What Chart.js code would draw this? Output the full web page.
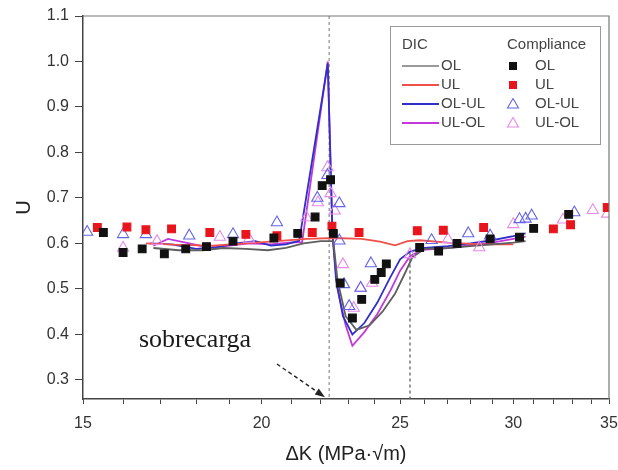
<!DOCTYPE html>
<html><head><meta charset="utf-8">
<script src="https://cdn.jsdelivr.net/npm/chart.js@4.4.0/dist/chart.umd.min.js"></script>
<style>html,body{margin:0;padding:0;background:#fff}#wrap{width:618px;height:470px;position:relative}</style>
</head><body><div id="wrap"><canvas id="c" width="618" height="470"></canvas></div>
<script>
// ---- axis ticks ----
const xTickValues = [15,16,17,18,19,20,21,22,23,24,25,26,27,28,29,30,31,32,33,34,35];
const xLabelValues = [15,20,25,30,35];
const yTickValues = [0.3,0.4,0.5,0.6,0.7,0.8,0.9,1.0,1.1];

// ---- DIC lines ----
const dicOL_x = [16.8,17.5,18.2,18.8,19.5,20.2,20.8,21.4,22.0,22.45,22.6,22.9,23.3,23.8,24.3,24.8,25.2,25.5,26.0,27.0,28.0,29.0,30.0,30.6];
const dicOL_y = [0.59,0.585,0.585,0.59,0.588,0.585,0.59,0.60,0.605,0.605,0.52,0.44,0.41,0.42,0.45,0.49,0.535,0.57,0.588,0.59,0.594,0.598,0.602,0.605];

const dicUL_x = [16.6,17.5,18.5,19.5,20.5,21.5,22.5,23.5,24.2,24.8,25.3,25.8,27.0,28.5,30.0];
const dicUL_y = [0.60,0.597,0.595,0.60,0.605,0.61,0.612,0.61,0.604,0.596,0.605,0.607,0.602,0.598,0.598];

const dicOLUL_x = [16.7,17.3,18.0,18.6,19.2,19.8,20.3,20.8,21.25,22.25,22.42,22.55,22.8,23.15,23.6,24.1,24.6,25.0,25.4,26.0,27.0,28.0,29.0,30.0,30.6];
const dicOLUL_y = [0.60,0.598,0.588,0.592,0.60,0.605,0.595,0.598,0.606,0.996,0.62,0.52,0.44,0.40,0.425,0.47,0.525,0.565,0.582,0.59,0.594,0.60,0.607,0.616,0.622];

const dicULOL_x = [16.8,17.2,17.8,18.4,19.0,19.6,20.3,20.9,21.35,22.25,22.42,22.6,22.9,23.15,23.6,24.1,24.6,25.0,25.4,25.9,27.0,28.0,29.0,30.0,30.6];
const dicULOL_y = [0.595,0.61,0.60,0.59,0.595,0.60,0.598,0.602,0.603,1.0,0.62,0.50,0.42,0.375,0.405,0.445,0.495,0.54,0.572,0.586,0.59,0.596,0.602,0.61,0.615];

// ---- Compliance points ----
const cOL_x = [15.5,16.0,16.5,17.1,17.7,18.3,19.1,20.4,21.2,21.8,22.05,22.35,22.45,22.7,23.15,23.5,24.0,24.25,24.45,25.8,26.6,27.4,28.9,30.3,31.0,32.8];
const cOL_y = [0.624,0.58,0.588,0.577,0.588,0.593,0.605,0.612,0.622,0.658,0.727,0.74,0.622,0.513,0.436,0.477,0.521,0.536,0.555,0.591,0.583,0.60,0.61,0.614,0.633,0.664];

const cUL_x = [15.35,16.1,16.6,17.3,18.4,19.5,20.5,21.7,22.4,23.4,25.7,26.8,28.6,32.0,32.9,34.9];
const cUL_y = [0.635,0.636,0.63,0.632,0.624,0.62,0.617,0.624,0.638,0.624,0.628,0.629,0.635,0.632,0.641,0.679];

const cOLUL_x = [15.1,16.0,16.6,17.8,19.1,20.5,21.88,22.24,22.67,22.67,22.84,23.03,23.46,23.85,26.3,27.9,28.9,30.3,30.6,30.9,33.1];
const cOLUL_y = [0.625,0.62,0.62,0.617,0.62,0.646,0.70,0.75,0.688,0.606,0.51,0.462,0.502,0.556,0.607,0.622,0.617,0.653,0.654,0.661,0.668];

const cULOL_x = [16.0,16.9,18.7,19.6,21.5,21.9,22.24,22.35,22.5,22.8,23.2,23.46,23.9,25.4,27.0,28.4,30.0,32.5,34.1,34.9];
const cULOL_y = [0.59,0.605,0.614,0.61,0.657,0.69,0.767,0.71,0.672,0.554,0.458,0.502,0.513,0.576,0.609,0.591,0.642,0.652,0.673,0.665];

// ---- markers on plot ----
const overloadX = [22.3, 25.4];
const overloadYTop = [1.1, 0.58];
const arrowFrom = [20.5, 0.335];
const arrowTo = [22.15, 0.262];

const pts = (xs, ys) => xs.map((x, i) => ({x, y: ys[i]}));

const colOL = '#5f5f5f', colUL = '#f0504a', colOLUL = '#3030c8', colULOL = '#c437dc';
const colSqBlack = '#111111', colSqRed = '#e8161c', colTriBlue = '#6464e6', colTriPink = '#e58ae6';

function lineDs(label, xs, ys, color) {
  return {label, data: pts(xs, ys), showLine: true, borderColor: color, backgroundColor: color,
    borderWidth: 1.8, pointRadius: 0, tension: 0, order: 2};
}
function ptDs(label, xs, ys, style, color, filled, r) {
  return {label, data: pts(xs, ys), showLine: false, pointStyle: style, pointRadius: r,
    borderColor: color, backgroundColor: filled ? color : 'rgba(0,0,0,0)', borderWidth: 1.1, order: 1};
}

const overlay = {
  id: 'overlay',
  beforeDatasetsDraw(chart) {
    const {ctx, scales: {x, y}} = chart;
    ctx.save();
    overloadX.forEach((v, i) => {
      const px = x.getPixelForValue(v);
      ctx.beginPath();
      ctx.setLineDash([3, 3]);
      ctx.strokeStyle = i === 0 ? '#8a8a8a' : '#555';
      ctx.lineWidth = 1.2;
      ctx.moveTo(px, y.getPixelForValue(overloadYTop[i]));
      ctx.lineTo(px, y.bottom);
      ctx.stroke();
    });
    ctx.restore();
  },
  afterDraw(chart) {
    const {ctx, chartArea: a, scales: {x, y}} = chart;
    ctx.save();
    // frame top & right
    ctx.strokeStyle = '#777'; ctx.lineWidth = 1.2; ctx.setLineDash([]);
    ctx.beginPath(); ctx.moveTo(a.left, a.top); ctx.lineTo(a.right, a.top); ctx.lineTo(a.right, a.bottom); ctx.stroke();

    // arrow
    const x0 = x.getPixelForValue(arrowFrom[0]), y0 = y.getPixelForValue(arrowFrom[1]);
    const x1 = x.getPixelForValue(arrowTo[0]), y1 = y.getPixelForValue(arrowTo[1]);
    const ang = Math.atan2(y1 - y0, x1 - x0);
    ctx.strokeStyle = '#222'; ctx.fillStyle = '#222'; ctx.lineWidth = 1.4;
    ctx.setLineDash([4, 3]);
    ctx.beginPath(); ctx.moveTo(x0, y0); ctx.lineTo(x1 - 8 * Math.cos(ang), y1 - 8 * Math.sin(ang)); ctx.stroke();
    ctx.setLineDash([]);
    ctx.beginPath();
    ctx.moveTo(x1, y1);
    ctx.lineTo(x1 - 10 * Math.cos(ang) + 3.5 * Math.sin(ang), y1 - 10 * Math.sin(ang) - 3.5 * Math.cos(ang));
    ctx.lineTo(x1 - 10 * Math.cos(ang) - 3.5 * Math.sin(ang), y1 - 10 * Math.sin(ang) + 3.5 * Math.cos(ang));
    ctx.closePath(); ctx.fill();

    // annotation text
    ctx.fillStyle = '#1a1a1a';
    ctx.font = '26px "Liberation Serif", "DejaVu Serif", serif';
    ctx.textBaseline = 'alphabetic'; ctx.textAlign = 'left';
    ctx.fillText('sobrecarga', 139, 347);

    // legend
    const L = 390, T = 26, R = 600, B = 144;
    ctx.fillStyle = '#fff'; ctx.fillRect(L, T, R - L, B - T);
    ctx.strokeStyle = '#9a9a9a'; ctx.lineWidth = 1; ctx.strokeRect(L + 0.5, T + 0.5, R - L, B - T);
    ctx.font = '15px "Liberation Sans", Arial, sans-serif';
    ctx.textBaseline = 'middle';
    ctx.fillStyle = '#444';
    ctx.fillText('DIC', 402, 45);
    ctx.fillText('Compliance', 507, 45);
    const rows = [
      ['OL', '#9a9a9a', 'rect', colSqBlack, true],
      ['UL', colUL, 'rect', colSqRed, true],
      ['OL-UL', colOLUL, 'triangle', colTriBlue, false],
      ['UL-OL', colULOL, 'triangle', colTriPink, false]
    ];
    rows.forEach((r, i) => {
      const yy = 66 + i * 19;
      ctx.strokeStyle = r[1]; ctx.lineWidth = 1.8;
      ctx.beginPath(); ctx.moveTo(402, yy); ctx.lineTo(439, yy); ctx.stroke();
      ctx.fillStyle = '#444';
      ctx.fillText(r[0], 441, yy);
      ctx.fillText(r[0], 535, yy);
      if (r[2] === 'rect') {
        ctx.fillStyle = r[3]; ctx.fillRect(509, yy - 4, 8, 8);
      } else {
        ctx.strokeStyle = r[3]; ctx.lineWidth = 1.1;
        ctx.beginPath(); ctx.moveTo(513, yy - 5.5); ctx.lineTo(518.5, yy + 4); ctx.lineTo(507.5, yy + 4); ctx.closePath(); ctx.stroke();
      }
    });
    ctx.restore();
  }
};

Chart.defaults.font.family = '"Liberation Sans", Arial, sans-serif';
Chart.defaults.color = '#333';

new Chart(document.getElementById('c'), {
  type: 'scatter',
  data: {
    datasets: [
      ptDs('Compliance OL', cOL_x, cOL_y, 'rect', colSqBlack, true, 5.5),
      ptDs('Compliance UL', cUL_x, cUL_y, 'rect', colSqRed, true, 5.5),
      ptDs('Compliance OL-UL', cOLUL_x, cOLUL_y, 'triangle', colTriBlue, false, 6.5),
      ptDs('Compliance UL-OL', cULOL_x, cULOL_y, 'triangle', colTriPink, false, 6.5),
      lineDs('DIC OL', dicOL_x, dicOL_y, colOL),
      lineDs('DIC UL', dicUL_x, dicUL_y, colUL),
      lineDs('DIC OL-UL', dicOLUL_x, dicOLUL_y, colOLUL),
      lineDs('DIC UL-OL', dicULOL_x, dicULOL_y, colULOL)
    ]
  },
  options: {
    responsive: false, animation: false, devicePixelRatio: 1,
    layout: {padding: {left: 0, right: 9, top: 16, bottom: 0}},
    plugins: {legend: {display: false}, tooltip: {enabled: false}},
    scales: {
      x: {
        type: 'logarithmic', min: 15, max: 35, position: 'bottom',
        afterBuildTicks: s => { s.ticks = xTickValues.map(v => ({value: v})); },
        afterFit: s => { s.height = 71; s.paddingLeft = 0; s.paddingRight = 0; },
        ticks: {autoSkip: false, maxRotation: 0, padding: 10, font: {size: 16}, color: '#333',
          callback: v => xLabelValues.includes(v) ? String(v) : ''},
        grid: {drawOnChartArea: false, drawTicks: true, tickLength: 5, color: '#444', lineWidth: 1},
        border: {display: true, color: '#444', width: 1.5},
        title: {display: true, text: 'ΔK (MPa·√m)', font: {size: 20}, color: '#222', padding: {top: 0, bottom: 4}}
      },
      y: {
        type: 'linear', min: 0.258, max: 1.1,
        afterBuildTicks: s => { s.ticks = yTickValues.map(v => ({value: v})); },
        afterFit: s => { s.width = 83; s.paddingTop = 0; s.paddingBottom = 0; },
        ticks: {autoSkip: false, padding: 6, font: {size: 16}, color: '#333', callback: v => Number(v).toFixed(1)},
        grid: {drawOnChartArea: false, drawTicks: true, tickLength: 8, color: '#444', lineWidth: 1},
        border: {display: true, color: '#444', width: 1.5},
        title: {display: true, text: 'U', font: {size: 20}, color: '#222', padding: {top: 12, bottom: 0}}
      }
    }
  },
  plugins: [overlay]
});
</script>
</body></html>
